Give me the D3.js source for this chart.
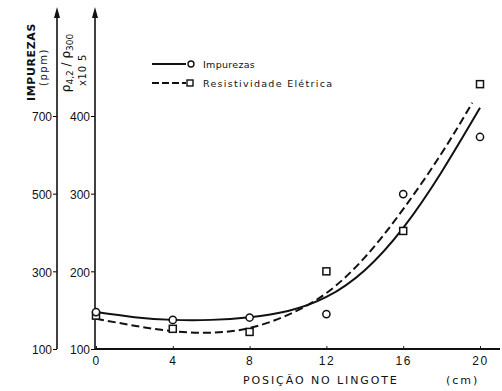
<!DOCTYPE html>
<html>
<head>
<meta charset="utf-8">
<script src="https://cdn.jsdelivr.net/npm/d3@7"></script>
<style>
  body { margin: 0; background: #fff; }
  svg { display: block; font-family: "DejaVu Sans", sans-serif; }
  .tick text { fill: #111; }
</style>
</head>
<body>
<script>
// dados
const posicoes = [0, 4, 8, 12, 16, 20];
const impurezas = [195, 175, 181, 190, 499, 646];        // ppm (circulos)
const resistividade = [143, 126, 122, 200, 252, 441];     // rho4,2/rho300 x10^5 (quadrados)

// curvas ajustadas (lidas ponto a ponto)
const curvaImpX = [0, 2, 4, 6, 8, 10, 12, 14, 16, 18, 20];
const curvaImpY = [195, 182, 175, 175, 182, 198, 234, 303, 412, 556, 721];
const curvaResX = [0, 2, 4, 6, 8, 10, 12, 14, 16, 18, 19.6];
const curvaResY = [139, 130, 123, 121, 127, 144, 172, 218, 280, 352, 417];

const ticksX = [0, 4, 8, 12, 16, 20];
const ticksImp = [100, 300, 500, 700];
const ticksRes = [100, 200, 300, 400];

const W = 502, H = 391;
const svg = d3.select('body').append('svg').attr('width', W).attr('height', H);

const x = d3.scaleLinear().domain([0, 20]).range([96, 480]);
const yImp = d3.scaleLinear().domain([100, 700]).range([349, 116]);
const yRes = d3.scaleLinear().domain([100, 400]).range([349, 116]);

const axOut = 57, axIn = 95, base = 349;

// eixo x
const gx = svg.append('g').attr('transform', 'translate(0,' + base + ')')
  .call(d3.axisBottom(x).tickValues(ticksX).tickSize(-3).tickPadding(7));
gx.select('.domain').remove();
gx.selectAll('.tick line').attr('stroke', '#222');
gx.selectAll('.tick text').attr('font-size', 12).attr('letter-spacing', 1.5);
svg.append('line').attr('x1', axIn).attr('x2', 500).attr('y1', base).attr('y2', base)
  .attr('stroke', '#111').attr('stroke-width', 2);

// eixo impurezas (externo)
const gOut = svg.append('g').attr('transform', 'translate(' + axOut + ',0)')
  .call(d3.axisLeft(yImp).tickValues(ticksImp).tickSize(4).tickPadding(1));
gOut.select('.domain').remove();
gOut.selectAll('.tick text').attr('font-size', 12).attr('dy', '0.4em');

// eixo resistividade (interno)
const gIn = svg.append('g').attr('transform', 'translate(' + axIn + ',0)')
  .call(d3.axisLeft(yRes).tickValues(ticksRes).tickSize(4).tickPadding(1));
gIn.select('.domain').remove();
gIn.selectAll('.tick text').attr('font-size', 12).attr('dy', '0.4em');

[axOut, axIn].forEach(function(ax) {
  svg.append('line').attr('x1', ax).attr('x2', ax).attr('y1', base).attr('y2', 14)
    .attr('stroke', '#111').attr('stroke-width', 1.6);
  svg.append('path').attr('d', 'M' + ax + ',7 L' + (ax - 3) + ',18 L' + (ax + 3) + ',18 Z')
    .attr('fill', '#111');
});

// rotulos dos eixos y
function rotulo(tx, ty, size) {
  return svg.append('text').attr('transform', 'translate(' + tx + ',' + ty + ') rotate(-90)')
    .attr('text-anchor', 'middle').attr('font-size', size).attr('fill', '#111');
}
rotulo(35, 62, 11).attr('font-weight', 'bold').attr('letter-spacing', 0.6).text('IMPUREZAS');
rotulo(47, 67, 10).attr('letter-spacing', 1.5).text('(ppm)');
const rho = rotulo(70, 63, 12);
rho.append('tspan').text('ρ');
rho.append('tspan').attr('font-size', 9).attr('dy', 3).text('4,2');
rho.append('tspan').attr('dy', -3).text(' / ρ');
rho.append('tspan').attr('font-size', 9).attr('dy', 3).text('300');
rotulo(86, 70, 10).attr('letter-spacing', 0.8).text('x10 5');

// titulo do eixo x
svg.append('text').attr('x', 243).attr('y', 384).attr('font-size', 11)
  .attr('letter-spacing', 1.9).attr('fill', '#111').text('POSIÇÃO NO LINGOTE');
svg.append('text').attr('x', 446).attr('y', 384).attr('font-size', 11)
  .attr('letter-spacing', 2).attr('fill', '#111').text('(cm)');

// curvas
const linhaImp = d3.line().x(function(d, i) { return x(curvaImpX[i]); })
  .y(function(d) { return yImp(d); }).curve(d3.curveNatural);
const linhaRes = d3.line().x(function(d, i) { return x(curvaResX[i]); })
  .y(function(d) { return yRes(d); }).curve(d3.curveNatural);

svg.append('path').attr('d', linhaImp(curvaImpY)).attr('fill', 'none')
  .attr('stroke', '#111').attr('stroke-width', 2);
svg.append('path').attr('d', linhaRes(curvaResY)).attr('fill', 'none')
  .attr('stroke', '#111').attr('stroke-width', 2).attr('stroke-dasharray', '8,4');

// pontos
svg.selectAll('.sq').data(resistividade).enter().append('rect')
  .attr('x', function(d, i) { return x(posicoes[i]) - 3.5; })
  .attr('y', function(d) { return yRes(d) - 3.5; })
  .attr('width', 7).attr('height', 7)
  .attr('fill', '#fff').attr('stroke', '#111').attr('stroke-width', 1.5);
svg.selectAll('.ci').data(impurezas).enter().append('circle')
  .attr('cx', function(d, i) { return x(posicoes[i]); })
  .attr('cy', function(d) { return yImp(d); })
  .attr('r', 3.6)
  .attr('fill', '#fff').attr('stroke', '#111').attr('stroke-width', 1.5);

// legenda
const leg = svg.append('g').attr('font-size', 9.5).attr('fill', '#111');
leg.append('line').attr('x1', 152).attr('x2', 186).attr('y1', 64).attr('y2', 64)
  .attr('stroke', '#111').attr('stroke-width', 2);
leg.append('circle').attr('cx', 191).attr('cy', 64).attr('r', 3)
  .attr('fill', '#fff').attr('stroke', '#111').attr('stroke-width', 1.4);
leg.append('text').attr('x', 203).attr('y', 67.5).attr('letter-spacing', 0.3).text('Impurezas');
leg.append('line').attr('x1', 152).attr('x2', 186).attr('y1', 83).attr('y2', 83)
  .attr('stroke', '#111').attr('stroke-width', 2).attr('stroke-dasharray', '7,3');
leg.append('rect').attr('x', 187).attr('y', 80).attr('width', 6).attr('height', 6)
  .attr('fill', '#fff').attr('stroke', '#111').attr('stroke-width', 1.4);
leg.append('text').attr('x', 203).attr('y', 86.5).attr('letter-spacing', 1.3)
  .text('Resistividade  Elétrica');
</script>
</body>
</html>
